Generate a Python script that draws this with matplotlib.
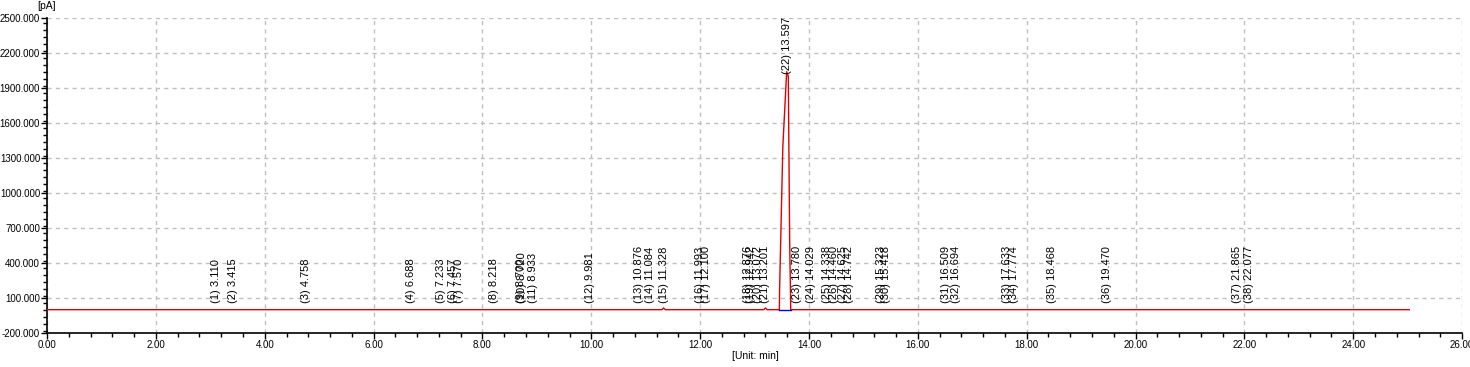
import numpy as np
import matplotlib
matplotlib.use('Agg')
import matplotlib.pyplot as plt
from matplotlib.ticker import MultipleLocator, FormatStrFormatter

plt.rcParams['font.family'] = ['Liberation Sans', 'DejaVu Sans']

# chromatogram trace (min, pA)
trace_t = [0.0, 11.30, 11.328, 11.36, 13.17, 13.201, 13.23, 13.456, 13.46, 13.48,
           13.52, 13.59, 13.62, 13.645, 13.665, 25.03]
trace_v = [0, 0, 15, 0, 0, 15, 0, 0, 170, 580, 1400, 2040, 2000, 600, 0, 0]

# integration baseline of main peak
base_t = [13.456, 13.665]
base_v = [0, 0]

# peak table
peak_rt = ['3.110', '3.415', '4.758', '6.688', '7.233', '7.457', '7.570', '8.218',
           '8.700', '8.720', '8.933', '9.981', '10.876', '11.084', '11.328', '11.993',
           '12.100', '12.876', '12.942', '13.072', '13.201', '13.597', '13.780', '14.029',
           '14.338', '14.460', '14.625', '14.742', '15.323', '15.418', '16.509', '16.694',
           '17.633', '17.774', '18.468', '19.470', '21.865', '22.077']
peak_height = [0] * 38
peak_height[21] = 1960

fig = plt.figure(figsize=(14.7, 3.67), dpi=100)
ax = fig.add_axes([0.032, 0.0926, 0.9626, 0.8584])

ax.plot(trace_t, trace_v, color='#e00000', lw=1.0, zorder=3)
ax.plot(base_t, base_v, color='#0000e0', lw=1.0, zorder=4)

for i, rt in enumerate(peak_rt):
    ax.annotate('(%d) %s' % (i + 1, rt), xy=(float(rt), peak_height[i]),
                xytext=(0, 7), textcoords='offset pixels', rotation=90,
                ha='center', va='bottom', fontsize=8, color='black', zorder=5)

ax.set_xlim(0, 26)
ax.set_ylim(-200, 2500)
ax.xaxis.set_major_locator(MultipleLocator(2))
ax.xaxis.set_minor_locator(MultipleLocator(0.4))
ax.yaxis.set_major_locator(MultipleLocator(300))
ax.yaxis.set_minor_locator(MultipleLocator(60))
ax.yaxis.set_major_formatter(FormatStrFormatter('%.3f'))
ax.xaxis.set_major_formatter(FormatStrFormatter('%.2f'))
ax.tick_params(which='major', length=4, width=1, labelsize=7, pad=1)
ax.tick_params(which='minor', length=3, width=1)
ax.set_yticks(np.arange(-200, 2501, 300))

ax.grid(True, which='major', color='#c0c0c0', ls=(0, (3, 3)), lw=1)
ax.spines['top'].set_visible(False)
ax.spines['right'].set_visible(False)
ax.spines['left'].set_linewidth(1.2)
ax.spines['bottom'].set_linewidth(1.2)

fig.text(47 / 1470, 1 - 6 / 367, '[pA]', ha='center', va='center', fontsize=7.5)
fig.text(755 / 1470, 1 - 356 / 367, '[Unit: min]', ha='center', va='center', fontsize=7.5)

fig.savefig('out.png', dpi=100)
